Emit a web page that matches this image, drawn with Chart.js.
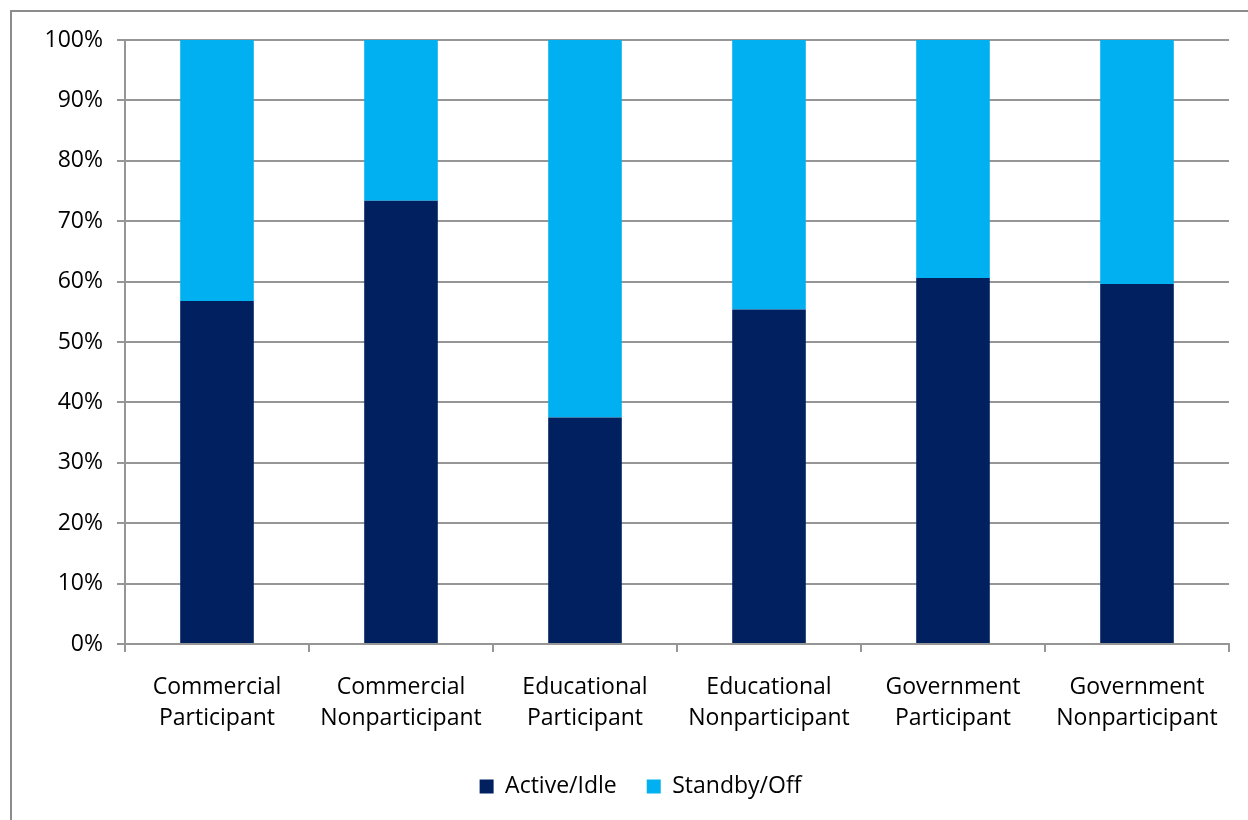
<!DOCTYPE html>
<html>
<head>
<meta charset="utf-8">
<script src="https://cdn.jsdelivr.net/npm/chart.js@4.4.0/dist/chart.umd.min.js"></script>
<style>
  html, body { margin: 0; padding: 0; background: #fff; overflow: hidden; }
  #frame { position: absolute; left: 10px; top: 10px; width: 1270px; height: 840px; border: 2px solid #8c8c8c; }
  #wrap { position: absolute; left: 0; top: 0; width: 1248px; height: 820px; }
</style>
</head>
<body>
<div id="frame"></div>
<div id="wrap"><canvas id="myChart"></canvas></div>
<script>
// usage split by sector and program status
const categories = [
  ['Commercial', 'Participant'],
  ['Commercial', 'Nonparticipant'],
  ['Educational', 'Participant'],
  ['Educational', 'Nonparticipant'],
  ['Government', 'Participant'],
  ['Government', 'Nonparticipant']
];
const activeIdle = [56.8, 73.4, 37.5, 55.4, 60.6, 59.6];
const standbyOff = activeIdle.map(v => +(100 - v).toFixed(1));
const yTicks = [0, 10, 20, 30, 40, 50, 60, 70, 80, 90, 100];

(() => {
  'use strict'

  const gridColor = '#969696';
  const font = { family: "'Open Sans', 'Noto Sans', sans-serif", size: 23 };

  // legend sits centred on the whole frame, a bit right of the plot
  const legendShift = {
    id: 'legendShift',
    afterLayout(chart) {
      const lg = chart.legend;
      if (lg) { lg.left += 26; lg.right += 26; }
    }
  };

  const ctx = document.getElementById('myChart');
  // eslint-disable-next-line no-unused-vars
  const myChart = new Chart(ctx, {
    type: 'bar',
    data: {
      labels: categories,
      datasets: [{
        label: 'Active/Idle',
        data: activeIdle,
        backgroundColor: '#002060'
      }, {
        label: 'Standby/Off',
        data: standbyOff,
        backgroundColor: '#00b0f0'
      }]
    },
    options: {
      responsive: true,
      maintainAspectRatio: false,
      animation: false,
      categoryPercentage: 1,
      barPercentage: 0.4,
      layout: { padding: { top: 40, right: 19, left: 0, bottom: 12 } },
      scales: {
        x: {
          stacked: true,
          border: { color: gridColor, width: 2 },
          grid: { offset: true, drawOnChartArea: false, drawTicks: true, tickLength: 8, color: gridColor, lineWidth: 2 },
          ticks: { color: '#000', font: { ...font, lineHeight: 1.35 }, padding: 20, maxRotation: 0, autoSkip: false },
          afterFit: (scale) => { scale.height = 101; }
        },
        y: {
          stacked: true,
          min: 0,
          max: 100,
          border: { color: gridColor, width: 2 },
          grid: { color: gridColor, lineWidth: 2, tickLength: 8 },
          afterBuildTicks: (scale) => { scale.ticks = yTicks.map(v => ({ value: v })); },
          ticks: { color: '#000', font: font, padding: 14, callback: (v) => `${v}%` },
          afterFit: (scale) => { scale.width = 125; }
        }
      },
      plugins: {
        legend: {
          position: 'bottom',
          labels: { color: '#000', font: font, boxWidth: 14, boxHeight: 14, padding: 30 }
        },
        tooltip: { enabled: false }
      }
    },
    plugins: [legendShift]
  });
})();
</script>
</body>
</html>
